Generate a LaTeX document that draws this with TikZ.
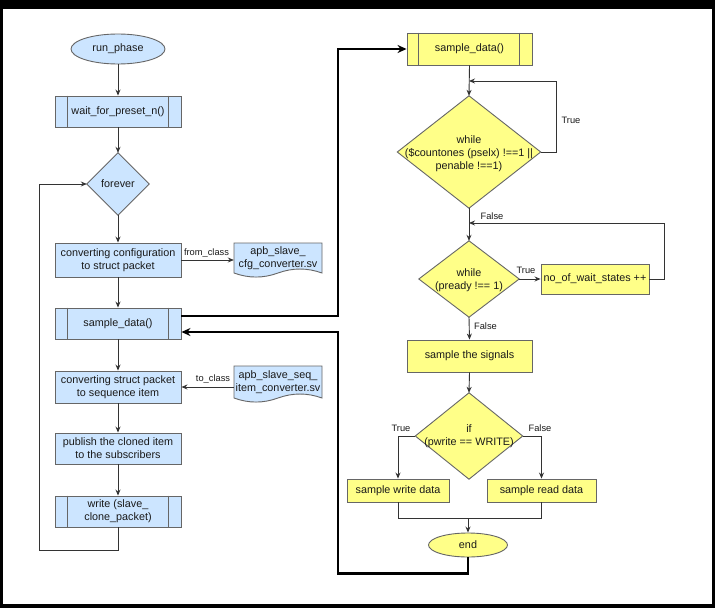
\documentclass[tikz,border=0pt]{standalone}
\usepackage{fontspec}
\setmainfont{Liberation Sans}
\usetikzlibrary{arrows.meta,shapes.geometric,calc}
\definecolor{bfill}{HTML}{CCE5FF}
\definecolor{yfill}{HTML}{FFFF88}
\definecolor{bord}{HTML}{666666}
\definecolor{lne}{HTML}{333333}
\definecolor{txt}{HTML}{1A1A1A}
\begin{document}
\begin{tikzpicture}[x=1pt,y=-1pt,
 font=\fontsize{10.8}{13}\selectfont,
 box/.style={draw=bord, line width=0.9pt, rectangle, inner sep=0pt, align=center, text=txt},
 bluebox/.style={box, fill=bfill},
 yelbox/.style={box, fill=yfill},
 term/.style={ellipse, draw=bord, line width=0.9pt, inner sep=0pt, text=txt},
 sz/.style 2 args={minimum width=#1, minimum height=#2},
 arr/.style={draw=lne, line width=0.9pt, -{Stealth[length=6pt,width=5pt]}},
 ln/.style={draw=lne, line width=0.9pt},
 bold/.style={draw=black, line width=2.6pt, -{Stealth[length=9pt,width=8pt]}},
 boldln/.style={draw=black, line width=2.6pt},
 lab/.style={font=\fontsize{9.3}{11}\selectfont, text=txt, inner sep=0pt},
 ghost/.style={rectangle, inner sep=0pt, draw=none},
 dtext/.style={align=center, text=txt, inner sep=0pt},
 inner/.style={draw=bord, line width=0.9pt},
]
% frame
\fill[black] (0,0) rectangle (715,608);
\fill[white] (3,9) rectangle (712,604);
\useasboundingbox (0,0) rectangle (715,608);

% ---------- left column ----------
\node[term, fill=bfill, sz={94}{30}] (rp) at (118,49) {run\_phase};
\node[bluebox, sz={126}{31}] (wp) at (118,111.5) {wait\_for\_preset\_n()};
\draw[inner] ([xshift=13pt]wp.north west) -- ([xshift=13pt]wp.south west)
             ([xshift=-13pt]wp.north east) -- ([xshift=-13pt]wp.south east);

\node[ghost, sz={62}{62}] (fv) at (118,184) {};
\filldraw[fill=bfill, draw=bord, line width=0.9pt] (fv.north) -- (fv.east) -- (fv.south) -- (fv.west) -- cycle;
\node[dtext] (fvt) at (fv) {forever};

\node[bluebox, sz={126}{34}] (cc) at (118,260) {converting configuration\\to struct packet};
\node[bluebox, sz={126}{31}] (s1) at (118,323.5) {sample\_data()};
\draw[inner] ([xshift=13pt]s1.north west) -- ([xshift=13pt]s1.south west)
             ([xshift=-13pt]s1.north east) -- ([xshift=-13pt]s1.south east);
\node[bluebox, sz={126}{32}] (cs) at (118,387) {converting struct packet\\to sequence item};
\node[bluebox, sz={126}{31}] (pb) at (118,448.5) {publish the cloned item\\to the subscribers};
\node[bluebox, sz={126}{31}] (wr) at (118,511.5) {write (slave\_\\clone\_packet)};
\draw[inner] ([xshift=13pt]wr.north west) -- ([xshift=13pt]wr.south west)
             ([xshift=-13pt]wr.north east) -- ([xshift=-13pt]wr.south east);

% documents
\filldraw[fill=bfill, draw=bord, line width=0.9pt] (234,243) -- (322,243) -- (322,273)
  .. controls (307.3,267.7) and (292.7,267.7) .. (278,273)
  .. controls (263.3,278.4) and (248.7,278.4) .. (234,273) -- cycle;
\node[ghost, sz={88}{30}, dtext] (doc1) at (278,258) {apb\_slave\_\\cfg\_converter.sv};
\filldraw[fill=bfill, draw=bord, line width=0.9pt] (234,366) -- (322,366) -- (322,398)
  .. controls (307.3,392.7) and (292.7,392.7) .. (278,398)
  .. controls (263.3,403.4) and (248.7,403.4) .. (234,398) -- cycle;
\node[ghost, sz={88}{30}, dtext] (doc2) at (278,382) {apb\_slave\_seq\_\\item\_converter.sv};

% left connectors
\draw[arr] (rp) -- (wp);
\draw[arr] (wp) -- (fv.north);
\draw[arr] (fv.south) -- (cc);
\draw[arr] (cc) -- (s1);
\draw[arr] (s1) -- (cs);
\draw[arr] (cs) -- (pb);
\draw[arr] (pb) -- (wr);
\draw[arr] (wr.south) -- ++(0,23) -| ([xshift=-47pt]fv.west) -- (fv.west);
\draw[arr] (cc.east) -- (doc1.west |- cc.east);
\draw[arr] (doc2.west |- cs.east) -- (cs.east);
\node[lab] (fromlab) at (206.5,253) {from\_class};
\node[lab] (tolab) at (213,379) {to\_class};

% ---------- right column ----------
\node[yelbox, sz={125}{32}] (s2) at (469.5,49) {sample\_data()};
\draw[inner] ([xshift=12pt]s2.north west) -- ([xshift=12pt]s2.south west)
             ([xshift=-13pt]s2.north east) -- ([xshift=-13pt]s2.south east);

\node[ghost, sz={143}{112}] (d1) at (469,152) {};
\filldraw[fill=yfill, draw=bord, line width=0.9pt] (d1.north) -- (d1.east) -- (d1.south) -- (d1.west) -- cycle;
\node[dtext] (d1t) at (469,154) {while\\(\$countones (pselx) !==1 ||\\penable !==1)};

\node[ghost, sz={100}{76}] (d2) at (469,279) {};
\filldraw[fill=yfill, draw=bord, line width=0.9pt] (d2.north) -- (d2.east) -- (d2.south) -- (d2.west) -- cycle;
\node[dtext] (d2t) at (469,280) {while\\(pready !== 1)};

\node[yelbox, sz={108}{30}] (nw) at (595,279) {no\_of\_wait\_states ++};
\node[yelbox, sz={125}{32}] (ss) at (469.5,356) {sample the signals};

\node[ghost, sz={107}{86}] (ifd) at (469,436) {};
\filldraw[fill=yfill, draw=bord, line width=0.9pt] (ifd.north) -- (ifd.east) -- (ifd.south) -- (ifd.west) -- cycle;
\node[dtext] (ifdt) at (469,436) {if\\(pwrite == WRITE)};

\node[yelbox, sz={102}{23}] (sw) at (398,490.5) {sample write data};
\node[yelbox, sz={109}{23}] (sr) at (541.5,490.5) {sample read data};
\node[term, fill=yfill, sz={79}{24}] (endn) at (468,545) {end};

\coordinate (d1in) at (469,81);
\coordinate (d2in) at (469,223);
\coordinate (jn) at (468,518);

\draw[arr] (s2.south) -- (d1.north);
\draw[arr] (d1.east) -- ++(16,0) |- (d1in);
\draw[arr] (d1.south) -- (d2.north);
\draw[arr] (d2.east) -- (nw.west);
\draw[arr] (nw.east) -- ++(15,0) |- (d2in);
\draw[arr] (d2.south) -- (ss.north);
\draw[arr] (ss.south) -- (ifd.north);
\draw[arr] (ifd.west) -| (sw.north);
\draw[arr] (ifd.east) -| (sr.north);
\draw[ln] (sw.south) |- (jn);
\draw[ln] (sr.south) |- (jn);
\draw[arr] (jn) -- (endn.north);

\node[lab] (t1) at (571,120) {True};
\node[lab] (f1) at (492,216) {False};
\node[lab] (t2) at (526,270) {True};
\node[lab] (f2) at (485.5,326) {False};
\node[lab] (t3) at (401,428) {True};
\node[lab] (f3) at (540,428) {False};

% ---------- bold connectors ----------
\coordinate (busx) at (338,0);
\coordinate (s1out) at ([yshift=7.5pt]s1.east);
\coordinate (s1in) at ([yshift=-8.5pt]s1.east);
\draw[bold] (s1out) -- (busx |- s1out) |- (s2.west);
\draw[bold] (endn.south) -- ++(0,16) -| (busx |- s1in) -- (s1in);
\end{tikzpicture}
\end{document}
